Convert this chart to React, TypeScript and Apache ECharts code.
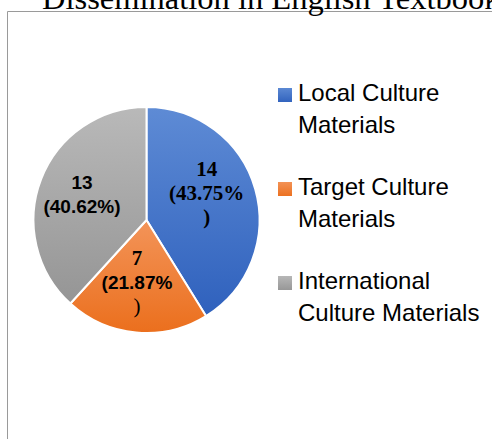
import React, { useEffect, useRef } from "react";
import * as echarts from "echarts";

const titleText = "Dissemination in English Textbook";
const categories = [
  "Local Culture Materials",
  "Target Culture Materials",
  "International Culture Materials",
];
const counts = [14, 7, 13];
const percentTexts = ["43.75%", "21.87%", "40.62%"];

const legendLines: Record<string, string[]> = {
  "Local Culture Materials": ["Local Culture", "Materials"],
  "Target Culture Materials": ["Target Culture", "Materials"],
  "International Culture Materials": ["International", "Culture Materials"],
};

const gradients = [
  ["#5e8bd5", "#2f61bd"],
  ["#f39459", "#eb6f1d"],
  ["#b9b9b9", "#959595"],
];

const labelOffsets = [
  [3, -11],
  [-4, 3],
  [-9, -4],
];

function grad(c: string[]) {
  return new echarts.graphic.LinearGradient(0, 0, 0, 1, [
    { offset: 0, color: c[0] },
    { offset: 1, color: c[1] },
  ]);
}

export default function App() {
  const ref = useRef<HTMLDivElement>(null);
  useEffect(() => {
    if (!ref.current) return;
    const chart = echarts.init(ref.current, undefined, { renderer: "svg" });
    const serif = '"Liberation Serif", "Times New Roman", serif';
    const sans = '"Liberation Sans", Arial, sans-serif';
    chart.setOption({
      animation: false,
      backgroundColor: "#ffffff",
      graphic: [
        {
          type: "rect",
          shape: { x: 7.5, y: 11.5, width: 700, height: 700 },
          style: { fill: "none", stroke: "#9a9a9a", lineWidth: 1 },
          silent: true,
        },
        {
          type: "text",
          x: 42,
          y: -2,
          style: {
            text: titleText,
            font: `32.5px ${serif}`,
            fill: "#000",
            textAlign: "left",
            textVerticalAlign: "middle",
            verticalAlign: "middle",
          },
        },
      ],
      legend: {
        orient: "vertical",
        left: 276,
        top: 58,
        padding: 0,
        itemGap: 16,
        itemWidth: 16,
        itemHeight: 16,
        icon: "rect",
        data: categories,
        formatter: (name: string) => {
          const l = legendLines[name] ?? [name, ""];
          return `{sp| }\n{t|${l[0]}}\n{t|${l[1]}}`;
        },
        textStyle: {
          fontFamily: sans,
          fontSize: 24,
          color: "#000",
          rich: {
            sp: { fontSize: 10, lineHeight: 26 },
            t: { fontFamily: sans, fontSize: 24, lineHeight: 32, color: "#000" },
          },
        },
        selectedMode: false,
      },
      series: [
        {
          type: "pie",
          center: [146.5, 220],
          radius: [0, 113],
          startAngle: 90,
          clockwise: true,
          avoidLabelOverlap: false,
          itemStyle: { borderColor: "#ffffff", borderWidth: 2 },
          emphasis: { disabled: true },
          label: {
            show: true,
            position: "inside",
            color: "#000",
            formatter: (p: any) => {
              const i = p.dataIndex;
              const v = counts[i];
              const pt = percentTexts[i];
              if (i === 0) return `{sb|${v}}\n{sb|(${pt}}\n{sb|)}`;
              if (i === 1) return `{sb|${v}}\n{ssb|(${pt}}\n{sr|)}`;
              return `{ssb|${v}}\n{ssb|(${pt})}`;
            },
            rich: {
              sb: { fontFamily: serif, fontWeight: "bold", fontSize: 21, lineHeight: 24, color: "#000" },
              ssb: { fontFamily: sans, fontWeight: "bold", fontSize: 19, lineHeight: 24, color: "#000" },
              sr: { fontFamily: serif, fontWeight: "normal", fontSize: 21, lineHeight: 24, color: "#000" },
            },
          },
          labelLine: { show: false },
          labelLayout: (params: any) => {
            const o = labelOffsets[params.dataIndex] || [0, 0];
            return { dx: o[0], dy: o[1] };
          },
          data: categories.map((name, i) => ({
            name,
            value: counts[i],
            itemStyle: { color: grad(gradients[i]) },
          })),
        },
      ],
    });
    return () => chart.dispose();
  }, []);
  return (
    <div
      ref={ref}
      style={{ position: "absolute", left: 0, top: 0, width: 492, height: 439 }}
    />
  );
}
